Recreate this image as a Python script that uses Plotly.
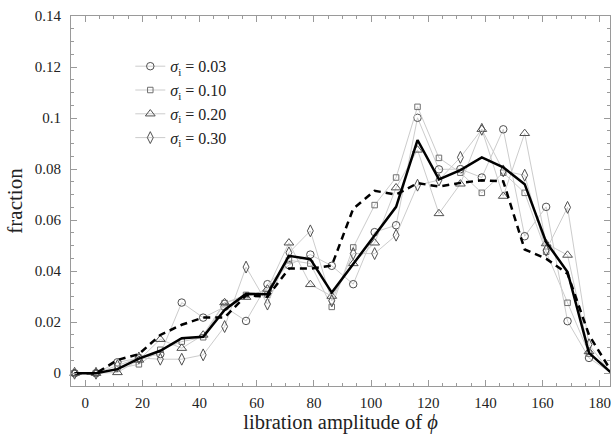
import plotly.graph_objects as go

x_centers = [-3.75 + 7.5 * k for k in range(26)]

s003 = [0, 0, 0.0043, 0.006, 0.0075, 0.0277, 0.0218, 0.026, 0.0205, 0.0349, 0.0424, 0.0465, 0.0421,
        0.0349, 0.0553, 0.058, 0.1001, 0.0799, 0.0800, 0.0767, 0.0956, 0.0537, 0.0652, 0.0204, 0.006, 0.0003]
s010 = [0, 0, 0.0018, 0.0035, 0.0092, 0.0124, 0.0141, 0.0275, 0.0307, 0.0308, 0.0443, 0.043, 0.026,
        0.0493, 0.0659, 0.0767, 0.1044, 0.0844, 0.0786, 0.0707, 0.0786, 0.0707, 0.0476, 0.0276, 0.0077, 0.0003]
s020 = [0, 0, 0.0003, 0.0052, 0.0133, 0.0098, 0.015, 0.0277, 0.0298, 0.033, 0.0511, 0.0348, 0.0302,
        0.043, 0.0511, 0.0727, 0.0875, 0.0626, 0.0742, 0.0956, 0.0694, 0.094, 0.0508, 0.0463, 0.0085, 0.0003]
s030 = [0, 0, 0.003, 0.006, 0.0055, 0.0055, 0.0072, 0.0183, 0.0416, 0.0271, 0.0472, 0.0558, 0.0284,
        0.0469, 0.0469, 0.0541, 0.0737, 0.0757, 0.0846, 0.0956, 0.0793, 0.0776, 0.0482, 0.065, 0.0112, 0.0003]
mean_solid = [0, 0, 0.0016, 0.0057, 0.0088, 0.0137, 0.0143, 0.0248, 0.0311, 0.031, 0.046, 0.0447, 0.0316,
              0.0427, 0.054, 0.0652, 0.0914, 0.076, 0.0796, 0.0846, 0.0807, 0.0741, 0.0514, 0.0397, 0.008, 0.0005]
mean_dashed = [0, 0, 0.0052, 0.0075, 0.015, 0.019, 0.0218, 0.0218, 0.0305, 0.030, 0.041, 0.041, 0.0422,
               0.0645, 0.0715, 0.070, 0.0745, 0.0732, 0.0746, 0.0756, 0.0752, 0.0485, 0.0449, 0.039, 0.015, 0.0013]

labels = ["0.03", "0.10", "0.20", "0.30"]
series = [s003, s010, s020, s030]
symbols = ["circle-open", "square-open", "triangle-up-open", "diamond-tall-open"]
sizes = [7.5, 5.5, 8.5, 8.5]
mcolors = ["#505050", "#707070", "#505050", "#505050"]

fig = go.Figure()
for lab, ys, sym, sz, mc in zip(labels, series, symbols, sizes, mcolors):
    fig.add_trace(go.Scatter(
        x=x_centers, y=ys, mode="lines+markers",
        name="<i>σ</i><sub>i</sub> = " + lab,
        line=dict(color="#cccccc", width=1),
        marker=dict(symbol=sym, size=sz, color=mc, line=dict(color=mc, width=1)),
        cliponaxis=False,
    ))

fig.add_trace(go.Scatter(x=x_centers, y=mean_dashed, mode="lines", showlegend=False,
                         line=dict(color="black", width=2.5, dash="7px,5px"), cliponaxis=False))
fig.add_trace(go.Scatter(x=x_centers, y=mean_solid, mode="lines", showlegend=False,
                         line=dict(color="black", width=2.5), cliponaxis=False))

axis_common = dict(
    showgrid=False, zeroline=False, showline=True, linecolor="#9a9a9a", linewidth=1,
    mirror="ticks", ticks="inside", tickcolor="#9a9a9a", ticklen=6, tickwidth=1,
    tickfont=dict(family="Liberation Serif", size=15, color="#222"),
)

fig.update_layout(
    width=611, height=434,
    margin=dict(l=71, r=1, t=16, b=48),
    paper_bgcolor="white", plot_bgcolor="white",
    font=dict(family="Liberation Serif", color="#222"),
    xaxis=dict(range=[-5, 183.6], tickmode="array", tickvals=[0, 20, 40, 60, 80, 100, 120, 140, 160, 180],
               minor=dict(dtick=5, tick0=0, ticks="inside", ticklen=3, tickcolor="#9a9a9a"),
               title=dict(text="libration amplitude of <i>ϕ</i>", font=dict(size=20.5), standoff=8),
               ticklabelstandoff=3, **axis_common),
    yaxis=dict(range=[-0.005, 0.14], tickmode="array",
               tickvals=[0, 0.02, 0.04, 0.06, 0.08, 0.1, 0.12, 0.14],
               ticktext=["0", "0.02", "0.04", "0.06", "0.08", "0.1", "0.12", "0.14"],
               minor=dict(dtick=0.005, tick0=0, ticks="inside", ticklen=3, tickcolor="#9a9a9a"),
               title=dict(text="fraction", font=dict(size=21), standoff=6),
               ticklabelstandoff=6, **axis_common),
    legend=dict(x=0.11, y=0.91, xanchor="left", yanchor="top", bgcolor="rgba(0,0,0,0)",
                font=dict(family="Liberation Serif", size=16, color="#222"),
                tracegroupgap=0),
)

fig.write_html("out.html")
